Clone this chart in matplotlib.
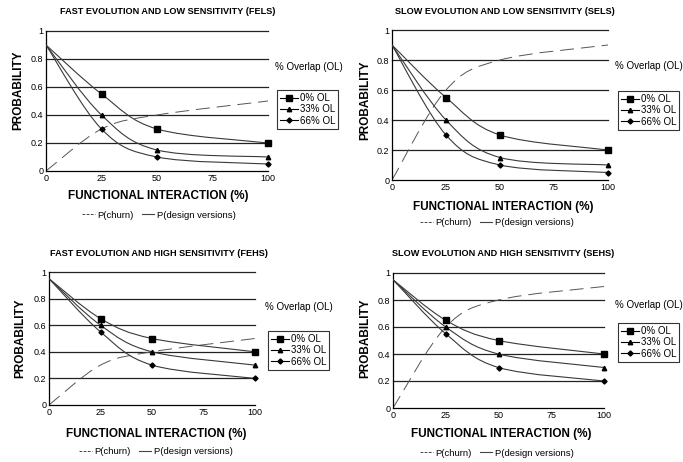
import numpy as np
import matplotlib
matplotlib.use('Agg')
from matplotlib import pyplot as plt
from matplotlib.path import Path
from matplotlib.patches import PathPatch
from matplotlib.lines import Line2D

plt.rcParams['font.family'] = ['Liberation Sans', 'DejaVu Sans']
plt.rcParams['lines.scale_dashes'] = False

W, H = 683, 462

interaction = [0, 25, 50, 100]
overlap_labels = ['0% OL', '33% OL', '66% OL']
titles = ['FAST EVOLUTION AND LOW SENSITIVITY (FELS)',
          'SLOW EVOLUTION AND LOW SENSITIVITY (SELS)',
          'FAST EVOLUTION AND HIGH SENSITIVITY (FEHS)',
          'SLOW EVOLUTION AND HIGH SENSITIVITY (SEHS)']

# P(design versions) per overlap level
fels_design = [[0.9, 0.55, 0.30, 0.20],
               [0.9, 0.40, 0.15, 0.10],
               [0.9, 0.30, 0.10, 0.05]]
sels_design = [[0.9, 0.55, 0.30, 0.20],
               [0.9, 0.40, 0.15, 0.10],
               [0.9, 0.30, 0.10, 0.05]]
fehs_design = [[0.95, 0.65, 0.50, 0.40],
               [0.95, 0.60, 0.40, 0.30],
               [0.95, 0.55, 0.30, 0.20]]
sehs_design = [[0.95, 0.65, 0.50, 0.40],
               [0.95, 0.60, 0.40, 0.30],
               [0.95, 0.55, 0.30, 0.20]]

# P(churn)
fast_churn = [0.0, 0.30, 0.40, 0.50]
slow_churn = [0.0, 0.60, 0.80, 0.90]

# panel layout in pixels: x0, x1, ytop, ybottom
boxes = [(46, 268, 31, 171), (392, 608, 30, 180),
         (49, 255, 272, 405), (393, 604, 273, 408)]

markers = ['s', '^', 'D']
msizes = [5, 3.2, 2.6]
line_col = '#3a3a3a'


def smooth(xs, ys):
    # catmull-rom through the read points, drawn as bezier segments
    pts = np.column_stack([xs, ys]).astype(float)
    verts = [pts[0]]
    codes = [Path.MOVETO]
    n = len(pts)
    for i in range(n - 1):
        p0 = pts[i - 1] if i > 0 else pts[i]
        p1 = pts[i]
        p2 = pts[i + 1]
        p3 = pts[i + 2] if i + 2 < n else pts[i + 1]
        verts += [p1 + (p2 - p0) / 6, p2 - (p3 - p1) / 6, p2]
        codes += [Path.CURVE4] * 3
    return Path(verts, codes)


def panel(fig, box, design, churn):
    x0, x1, yt, yb = box
    ax = fig.add_axes([x0 / W, 1 - yb / H, (x1 - x0) / W, (yb - yt) / H])
    ax.set_xlim(0, 100)
    ax.set_ylim(0, 1)
    for v in [0.2, 0.4, 0.6, 0.8, 1.0]:
        ax.axhline(v, color='#222222', lw=0.9, zorder=1, clip_on=False)
    for s in ['top', 'right']:
        ax.spines[s].set_visible(False)
    ax.spines['left'].set_linewidth(0.9)
    ax.spines['bottom'].set_linewidth(0.9)
    ax.set_xticks([0, 25, 50, 75, 100])
    ax.set_yticks([0, 0.2, 0.4, 0.6, 0.8, 1])
    ax.set_yticklabels(['0', '0.2', '0.4', '0.6', '0.8', '1'])
    ax.tick_params(length=0, pad=2, labelsize=6.5)

    ax.add_patch(PathPatch(smooth(interaction, churn), fill=False,
                           ec='#555555', lw=0.7, linestyle=(0, (10, 5)),
                           transform=ax.transData, zorder=2))
    handles = []
    for vals, m, ms, lab in zip(design, markers, msizes, overlap_labels):
        ax.add_patch(PathPatch(smooth(interaction, vals), fill=False,
                               ec=line_col, lw=0.8, transform=ax.transData,
                               zorder=3))
        ax.plot(interaction[1:], vals[1:], ls='none', marker=m, ms=ms,
                color='black', zorder=4, clip_on=False)
        handles.append(Line2D([], [], color='black', lw=0.8, marker=m,
                              ms=ms, label=lab))
    return ax, handles


fig = plt.figure(figsize=(W / 100, H / 100), dpi=100)

datasets = [(fels_design, fast_churn), (sels_design, slow_churn),
            (fehs_design, fast_churn), (sehs_design, slow_churn)]
title_pos = [(168, 12), (505, 11), (159, 253), (503, 253)]
xlabel_pos = [(158, 196), (503, 207), (156, 434), (501, 434)]
ylabel_pos = [(18, 90), (365, 100), (20, 338), (365, 338)]
legend_pos = [(277, 90), (618, 91), (268, 331), (618, 323)]
overlap_pos = [(275, 67), (615, 66), (265, 307), (615, 305)]
bottom_pos = [(159, 215), (497, 223), (156, 452), (497, 453)]

for i in range(4):
    design, churn = datasets[i]
    ax, handles = panel(fig, boxes[i], design, churn)
    tx, ty = title_pos[i]
    fig.text(tx / W, 1 - ty / H, titles[i], ha='center', va='center',
             fontsize=6.6, fontweight='bold')
    lx, ly = xlabel_pos[i]
    fig.text(lx / W, 1 - ly / H, 'FUNCTIONAL INTERACTION (%)', ha='center',
             va='center', fontsize=8.5, fontweight='bold')
    yx, yy = ylabel_pos[i]
    fig.text(yx / W, 1 - yy / H, 'PROBABILITY', ha='center', va='center',
             rotation=90, fontsize=8.5, fontweight='bold')
    ox, oy = overlap_pos[i]
    fig.text(ox / W, 1 - oy / H, '% Overlap (OL)', ha='left', va='center',
             fontsize=7)
    gx, gy = legend_pos[i]
    leg = fig.legend(handles=handles, loc='upper left',
                     bbox_to_anchor=(gx / W, 1 - gy / H), fontsize=7,
                     frameon=True, fancybox=False, handlelength=1.9,
                     handletextpad=0.15, borderpad=0.3, labelspacing=0.15,
                     borderaxespad=0)
    leg.get_frame().set_edgecolor('black')
    leg.get_frame().set_linewidth(0.8)
    bx, by = bottom_pos[i]
    key = [Line2D([], [], color='#444444', lw=0.7, linestyle=(0, (2, 1))),
           Line2D([], [], color='#444444', lw=0.8)]
    fig.legend(handles=key, labels=['P(churn)', 'P(design versions)'],
               loc='center', bbox_to_anchor=(bx / W, 1 - by / H), ncol=2,
               frameon=False, fontsize=6.8, handlelength=1.3,
               handletextpad=0.3, columnspacing=0.8, borderaxespad=0,
               borderpad=0)

fig.savefig('out.png', dpi=100)
